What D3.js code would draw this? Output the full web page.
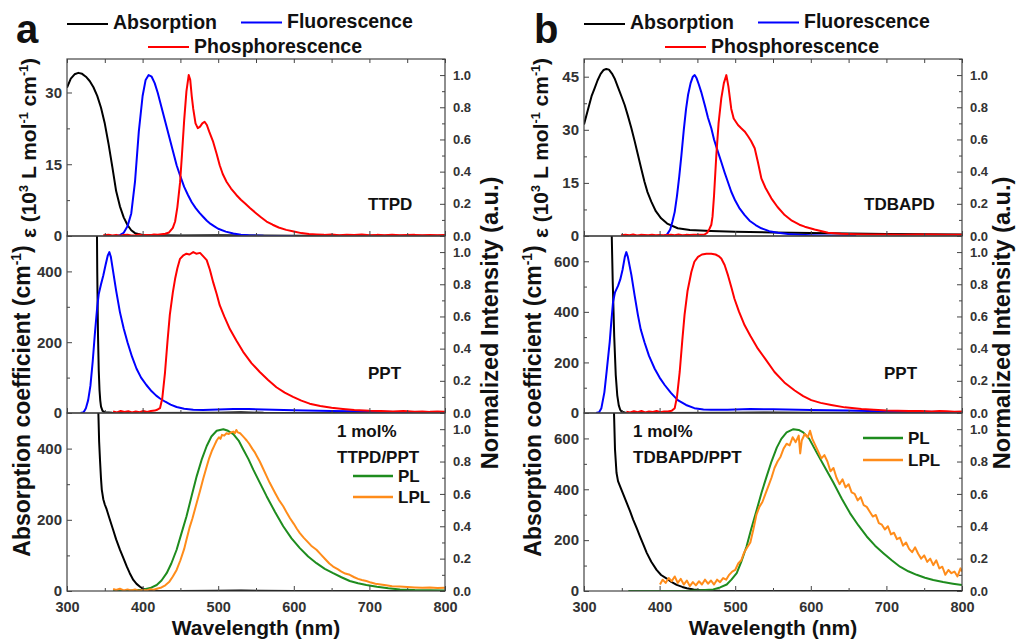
<!DOCTYPE html>
<html>
<head>
<meta charset="utf-8">
<script src="https://d3js.org/d3.v7.min.js"></script>
<style>
  body { margin: 0; background: #fff; }
  text { font-family: "Liberation Sans", Arial, sans-serif; font-weight: bold; }
</style>
</head>
<body>
<svg width="1017" height="640"></svg>
<script>
// ---------- data (wavelength nm, value) ----------
// panel a, TTPD solution: epsilon in 10^3 L/mol/cm, emission normalized
var absTTPD = [[300,31.0],[305,32.9],[310,33.8],[315,34.1],[320,33.9],[325,33.3],[330,32.4],[335,31.1],[340,29.3],[345,26.8],[350,23.5],[355,19.2],[360,14.4],[365,9.4],[370,6.2],[375,3.9],[380,2.3],[385,1.2],[390,0.6],[400,0.2],[450,0.1],[500,0.15],[550,0.1],[600,0.05],[800,0.03]];
var flTTPD = [[365,0],[370,0.005],[375,0.02],[380,0.06],[385,0.14],[390,0.34],[395,0.65],[400,0.87],[404,0.97],[408,1.0],[412,0.99],[416,0.95],[420,0.89],[425,0.8],[430,0.71],[435,0.62],[440,0.53],[445,0.44],[450,0.37],[455,0.305],[460,0.255],[465,0.21],[470,0.175],[475,0.145],[480,0.12],[485,0.095],[490,0.075],[495,0.06],[500,0.045],[510,0.027],[520,0.015],[530,0.008],[540,0.004],[560,0.001],[600,0]];
var phTTPD = [[348,0.004],[355,0.008],[360,0.003],[365,0.007],[370,0.002],[375,0.006],[380,0.008],[385,0.003],[390,0.005],[395,0.009],[400,0.004],[405,0.007],[410,0.005],[415,0.009],[420,0.008],[425,0.011],[430,0.014],[435,0.022],[440,0.05],[443,0.09],[446,0.18],[449.5,0.33],[452,0.5],[455,0.72],[458,0.9],[461,1.0],[463,0.97],[465,0.87],[467,0.79],[470,0.7],[473,0.67],[476,0.68],[479,0.7],[482,0.71],[485,0.69],[488,0.65],[493,0.59],[498,0.51],[502,0.44],[506,0.385],[511,0.337],[517,0.295],[524,0.255],[530,0.225],[536,0.2],[542,0.174],[550,0.142],[557,0.115],[564,0.09],[572,0.07],[580,0.053],[590,0.038],[600,0.028],[610,0.018],[620,0.012],[630,0.009],[640,0.007],[650,0.01],[660,0.005],[670,0.008],[680,0.006],[690,0.009],[700,0.004],[710,0.007],[720,0.005],[730,0.008],[740,0.004],[750,0.006],[760,0.007],[770,0.004],[780,0.006],[790,0.005],[800,0.006]];
// PPT film (panel a): absorption coefficient cm^-1
var absPPTa = [[330,5000],[337,2000],[339,700],[340,400],[341,220],[342,120],[343,65],[344,35],[345,18],[347,6],[350,2],[360,0.5],[400,0.2],[500,1],[530,2],[560,0.5],[800,0]];
var flPPTa = [[318,0],[322,0.005],[325,0.03],[328,0.08],[331,0.17],[334,0.32],[337,0.5],[340,0.66],[342,0.74],[345,0.8],[348,0.855],[351,0.92],[354,0.98],[356,1.0],[358,0.97],[361,0.88],[365,0.76],[370,0.627],[375,0.525],[380,0.44],[386,0.35],[392,0.275],[398,0.22],[405,0.174],[412,0.135],[418,0.108],[423,0.09],[430,0.07],[437,0.052],[445,0.037],[455,0.027],[467,0.02],[480,0.019],[500,0.022],[520,0.025],[540,0.025],[560,0.022],[600,0.017],[650,0.013],[700,0.009],[750,0.005],[800,0.003]];
var phPPTa = [[361,0.01],[366,0.004],[371,0.012],[376,0.006],[381,0.011],[386,0.003],[391,0.009],[396,0.005],[401,0.012],[406,0.007],[411,0.013],[416,0.015],[420,0.022],[423,0.03],[426,0.09],[429.6,0.25],[433,0.45],[436,0.61],[440,0.75],[443,0.834],[446,0.9],[449.5,0.958],[454,0.98],[458,0.99],[462,0.985],[467,1.0],[471,0.99],[476,0.995],[480,0.975],[484.8,0.95],[489,0.89],[493.5,0.81],[498,0.74],[502,0.67],[508,0.6],[515.6,0.52],[524,0.45],[533,0.38],[544,0.31],[555,0.255],[566,0.205],[577,0.16],[588,0.127],[599,0.1],[610,0.077],[621,0.058],[635,0.043],[650,0.032],[665,0.025],[680,0.019],[700,0.014],[715,0.012],[731,0.01],[745,0.012],[760,0.008],[770,0.01],[780,0.007],[790,0.009],[800,0.007]];
// 1 mol% TTPD/PPT film
var absMixA = [[336,3000],[339,1200],[340.5,600],[341.5,500],[342.5,420],[343.6,370],[345,315],[346,285],[348,258],[350,243],[352.5,229],[356,205],[361,172],[365,145],[370,116],[375,90],[379,69],[383,50],[387.7,31],[392,20],[396.6,12],[400,7],[405,3],[410,1.5],[420,0.5],[450,0.3],[500,0.5],[530,1.5],[550,0.5],[600,0],[800,0]];
var plA = [[361,0],[380,0.002],[400,0.008],[410,0.018],[418.7,0.037],[425,0.065],[431.8,0.11],[438,0.17],[445,0.255],[451,0.35],[458,0.46],[465,0.59],[471.6,0.71],[478,0.81],[484.8,0.896],[491,0.955],[498,0.99],[506.8,1.0],[513,0.99],[520,0.97],[527,0.93],[533,0.876],[540,0.815],[546.4,0.75],[555,0.67],[564,0.586],[575,0.49],[586,0.4],[597,0.325],[608,0.265],[619,0.213],[630,0.172],[641,0.137],[652,0.11],[663,0.085],[674,0.062],[685,0.048],[696,0.037],[710,0.026],[725,0.017],[740.5,0.01],[760,0.006],[780,0.004],[800,0.003]];
var lplA = [[361,0.012],[365,0.006],[370,0.014],[375,0.004],[380,0.01],[385,0.003],[390,0.009],[395,0.002],[400,0.006],[405,0.004],[410,0.011],[415,0.008],[420,0.016],[425,0.022],[430,0.035],[435,0.055],[440,0.09],[445,0.13],[450,0.19],[455,0.26],[458,0.317],[462,0.39],[466,0.45],[471.6,0.545],[476,0.62],[480,0.69],[484.8,0.77],[488,0.82],[492,0.87],[495,0.9],[498,0.93],[501,0.95],[503,0.94],[505,0.965],[508,0.96],[511,0.975],[514,0.97],[517,0.98],[520,0.985],[522,0.975],[524,0.995],[526,0.98],[529,0.975],[532,0.96],[535,0.945],[537.7,0.93],[541,0.91],[545,0.88],[548,0.86],[551,0.834],[555,0.8],[559,0.76],[564,0.71],[568,0.67],[572,0.635],[576,0.6],[580,0.565],[586,0.524],[590,0.49],[595,0.45],[600,0.415],[604,0.385],[608,0.358],[613,0.33],[618,0.305],[623,0.28],[630,0.255],[636,0.225],[642,0.195],[647,0.17],[652,0.151],[658,0.135],[663,0.12],[668,0.108],[674,0.1],[680,0.085],[685,0.075],[690,0.068],[696,0.062],[702,0.052],[708,0.045],[715,0.04],[722,0.035],[730,0.03],[740,0.028],[750,0.025],[760,0.022],[770,0.02],[780,0.021],[790,0.018],[800,0.02]];

// panel b, TDBAPD solution
var absTDBAPD = [[300,31.5],[305,35.5],[310,39.5],[314,41.7],[318,44],[322,45.8],[326,46.9],[329.5,47.2],[333,47],[337,45.9],[340.5,44.5],[345,42],[350,39.2],[353.8,37],[358,34],[362.6,30.5],[367,26.8],[371.4,22.9],[376,18.8],[380,15.3],[384,12.4],[389,9.7],[395,7],[402,5],[410,3.5],[424,2.2],[440,1.7],[468,1.4],[500,1.2],[550,1.0],[600,0.85],[650,0.7],[700,0.6],[750,0.5],[800,0.45]];
var flTDBAPD = [[406,0],[410,0.01],[414,0.04],[417,0.09],[420,0.15],[423,0.25],[426,0.37],[428.8,0.5],[432,0.66],[435,0.79],[437.6,0.876],[441,0.95],[444,0.99],[446.4,1.0],[449,0.98],[452,0.94],[455,0.896],[460,0.81],[464,0.735],[468.4,0.67],[472,0.6],[476,0.54],[481.6,0.46],[486,0.395],[490,0.34],[494.8,0.275],[500,0.22],[506,0.17],[512.5,0.13],[519,0.095],[527,0.068],[534.6,0.048],[545,0.03],[556.6,0.02],[570,0.012],[585,0.008],[600.6,0.005],[630,0.002],[660,0]];
var phTDBAPD = [[349,0.004],[355,0.008],[360,0.005],[365,0.009],[370,0.003],[375,0.007],[380,0.006],[385,0.004],[390,0.008],[395,0.005],[400,0.007],[405,0.004],[410,0.006],[415,0.008],[420,0.005],[425,0.009],[430,0.005],[435,0.007],[440,0.006],[445,0.008],[450,0.007],[455,0.008],[459.7,0.01],[463,0.02],[466,0.045],[468.4,0.07],[470,0.12],[472,0.25],[475,0.5],[478,0.7],[481.6,0.855],[485,0.95],[488.3,1.0],[491,0.93],[494.8,0.79],[498,0.73],[503.7,0.69],[508,0.67],[512.5,0.65],[517,0.62],[521,0.59],[525.8,0.545],[530,0.46],[534.6,0.358],[540,0.3],[547.8,0.234],[556,0.18],[565.5,0.13],[575,0.095],[585,0.07],[592,0.058],[605,0.04],[622.8,0.02],[640,0.014],[660,0.011],[680,0.009],[700,0.01],[720,0.008],[740,0.01],[760,0.009],[780,0.007],[800,0.008]];
// PPT film (panel b)
var absPPTb = [[330,5000],[334,1500],[336,800],[338,520],[340,300],[342,150],[344,70],[346,30],[348,12],[350,5],[355,1],[400,0.3],[500,1],[540,2],[600,0.5],[800,0.3]];
var flPPTb = [[316,0],[320,0.005],[323,0.03],[327,0.13],[330,0.26],[334,0.44],[336,0.56],[338.4,0.69],[341,0.75],[345,0.79],[348,0.83],[351,0.89],[354,0.97],[356,1.0],[358,0.97],[362.6,0.86],[367,0.73],[371.4,0.607],[375,0.52],[380,0.44],[386,0.355],[393.5,0.275],[400,0.22],[406.7,0.174],[415,0.125],[424,0.08],[435,0.05],[446,0.03],[458,0.022],[468,0.02],[490,0.02],[520,0.025],[550,0.023],[600,0.018],[650,0.015],[700,0.01],[750,0.007],[800,0.005]];
var phPPTb = [[356,0.008],[361,0.003],[366,0.011],[371,0.005],[376,0.012],[381,0.004],[386,0.01],[391,0.006],[396,0.013],[401,0.005],[406,0.01],[411,0.009],[416,0.014],[420,0.03],[423,0.1],[426.6,0.255],[430,0.45],[433,0.61],[437,0.76],[442,0.876],[446,0.94],[450.8,0.97],[456,0.985],[462,0.99],[468.4,0.99],[474,0.985],[478,0.975],[481.6,0.96],[486,0.92],[490.5,0.855],[495,0.78],[499,0.71],[505,0.63],[512.5,0.545],[520,0.48],[530,0.4],[540,0.335],[552,0.255],[565,0.19],[578.7,0.14],[590,0.105],[600.6,0.08],[613,0.063],[627,0.05],[645,0.035],[667,0.025],[700,0.016],[715,0.014],[730,0.012],[745,0.013],[760,0.01],[770,0.012],[780,0.011],[790,0.008],[800,0.009]];
// 1 mol% TDBAPD/PPT film
var absMixB = [[335,3000],[338.8,800],[341,557],[343,465],[345,432],[347.6,412],[352,380],[356.5,347],[361,313],[365,281],[370,245],[374,215],[378,186],[383,150],[389,115],[396,83],[402,63],[409,50],[415,37],[422.6,24],[430,16],[436,11],[445,6],[453,4],[465,2],[480,0.5],[500,0],[800,0]];
var plB = [[358.6,0],[400,0],[440,0.002],[460,0.006],[471,0.01],[480,0.022],[488.8,0.04],[495,0.07],[502,0.11],[508,0.18],[515,0.275],[521,0.38],[528.4,0.5],[535,0.61],[541.7,0.71],[548,0.8],[555,0.886],[561,0.94],[568,0.98],[577,1.0],[584,0.995],[590,0.98],[598,0.94],[607.8,0.855],[618,0.77],[629.8,0.67],[641,0.57],[652,0.48],[663,0.405],[674,0.337],[685,0.28],[696,0.234],[707,0.19],[718,0.15],[729,0.122],[740,0.1],[751,0.082],[762,0.068],[775,0.055],[788,0.045],[800,0.037]];
var lplB = [[400.5,0.04],[404,0.07],[408,0.05],[412,0.08],[416,0.06],[420,0.09],[424,0.05],[428,0.075],[432,0.04],[436,0.065],[440,0.03],[444,0.055],[448,0.035],[452,0.06],[456,0.04],[460,0.07],[464,0.045],[468,0.065],[472,0.04],[476,0.07],[480,0.055],[484,0.08],[488,0.07],[492,0.1],[496,0.12],[500,0.13],[504,0.17],[508,0.19],[512,0.24],[516,0.27],[520,0.3],[524,0.38],[528,0.47],[532,0.52],[536,0.55],[540,0.6],[544,0.65],[548,0.7],[552,0.76],[556,0.8],[560,0.83],[564,0.88],[568,0.91],[572,0.9],[576,0.95],[580,0.92],[584,0.96],[586,0.85],[588,0.93],[592,0.97],[596,0.95],[599,0.99],[602,0.94],[606,0.9],[610,0.86],[614,0.82],[618,0.84],[622,0.8],[626,0.74],[630,0.76],[634,0.7],[638,0.66],[642,0.69],[646,0.64],[650,0.66],[654,0.61],[658,0.6],[662,0.56],[666,0.58],[670,0.53],[674,0.52],[678,0.49],[682,0.46],[686,0.47],[690,0.42],[694,0.41],[698,0.38],[702,0.4],[706,0.35],[710,0.36],[714,0.32],[718,0.33],[722,0.28],[726,0.3],[730,0.26],[734,0.24],[738,0.27],[742,0.23],[746,0.2],[750,0.22],[754,0.18],[758,0.2],[762,0.16],[766,0.19],[770,0.14],[774,0.15],[778,0.1],[782,0.13],[786,0.11],[790,0.12],[794,0.09],[798,0.14],[800,0.12]];

// axis ticks
var xTicks = [300, 400, 500, 600, 700, 800];
var xMinor = [350, 450, 550, 650, 750];
var rightTicks = [0, 0.2, 0.4, 0.6, 0.8, 1.0];
var rightMinor = [0.1, 0.3, 0.5, 0.7, 0.9, 1.1];
var leftTicksA = [[0, 15, 30], [0, 200, 400], [0, 200, 400]];
var leftMinorA = [[7.5, 22.5], [100, 300], [100, 300]];
var leftTicksB = [[0, 15, 30, 45], [0, 200, 400, 600], [0, 200, 400, 600]];
var leftMinorB = [[7.5, 22.5, 37.5], [100, 300, 500], [100, 300, 500]];
var leftMaxA = [37, 500, 500];
var leftMaxB = [50, 700, 700];

var C = {abs: "#000000", fl: "#0000ff", ph: "#ff0000", pl: "#1e8c1e", lpl: "#ff8c1a"};

var svg = d3.select("svg");
var rows = [[59, 236], [236, 413], [413, 591]];

var panels = [
  {x0: 67, x1: 445, letter: "a", lx: 16, name: "TTPD", mix: "TTPD/PPT",
   leftMax: leftMaxA, leftTicks: leftTicksA, leftMinor: leftMinorA,
   series: [
     [{d: absTTPD, a: "L", c: C.abs}, {d: flTTPD, a: "R", c: C.fl}, {d: phTTPD, a: "R", c: C.ph}],
     [{d: absPPTa, a: "L", c: C.abs}, {d: flPPTa, a: "R", c: C.fl}, {d: phPPTa, a: "R", c: C.ph}],
     [{d: absMixA, a: "L", c: C.abs}, {d: plA, a: "R", c: C.pl}, {d: lplA, a: "R", c: C.lpl}]
   ]},
  {x0: 584, x1: 962, letter: "b", lx: 534, name: "TDBAPD", mix: "TDBAPD/PPT",
   leftMax: leftMaxB, leftTicks: leftTicksB, leftMinor: leftMinorB,
   series: [
     [{d: absTDBAPD, a: "L", c: C.abs}, {d: flTDBAPD, a: "R", c: C.fl}, {d: phTDBAPD, a: "R", c: C.ph}],
     [{d: absPPTb, a: "L", c: C.abs}, {d: flPPTb, a: "R", c: C.fl}, {d: phPPTb, a: "R", c: C.ph}],
     [{d: absMixB, a: "L", c: C.abs}, {d: plB, a: "R", c: C.pl}, {d: lplB, a: "R", c: C.lpl}]
   ]}
];

function styleAxis(g, size) {
  g.select(".domain").remove();
  g.selectAll(".tick line").attr("stroke", "#444").attr("stroke-width", 1);
  g.selectAll(".tick text").attr("fill", "#333").style("font-size", size + "px");
}

// rotated title with superscript parts
function rotTitle(x, y, size, parts) {
  var t = svg.append("text")
    .attr("transform", "translate(" + x + "," + y + ") rotate(-90)")
    .attr("text-anchor", "middle")
    .style("font-size", size + "px")
    .attr("fill", "#111");
  var up = false;
  parts.forEach(function(p) {
    var s = t.append("tspan").text(p[0]);
    if (p[1] && !up) { s.attr("dy", -size * 0.4).style("font-size", (size * 0.6) + "px"); up = true; }
    else if (!p[1] && up) { s.attr("dy", size * 0.4); up = false; }
    else if (p[1]) s.style("font-size", (size * 0.6) + "px");
  });
  return t;
}

panels.forEach(function(p, pi) {
  var x = d3.scaleLinear().domain([300, 800]).range([p.x0, p.x1]);

  rows.forEach(function(r, ri) {
    var yL = d3.scaleLinear().domain([0, p.leftMax[ri]]).range([r[1], r[0]]);
    var yR = d3.scaleLinear().domain([0, 1.1]).range([r[1], r[0]]);
    var id = "clip" + pi + ri;
    svg.append("clipPath").attr("id", id).append("rect")
      .attr("x", p.x0).attr("y", r[0]).attr("width", p.x1 - p.x0).attr("height", r[1] - r[0]);

    var g = svg.append("g").attr("clip-path", "url(#" + id + ")");
    p.series[ri].forEach(function(s) {
      var ys = s.a === "L" ? yL : yR;
      var line = d3.line().x(function(d) { return x(d[0]); }).y(function(d) { return ys(Math.min(d[1], p.leftMax[ri] * 3)); });
      g.append("path").datum(s.d).attr("d", line)
        .attr("fill", "none").attr("stroke", s.c).attr("stroke-width", 2)
        .attr("stroke-linejoin", "round");
    });

    // frame
    svg.append("rect").attr("x", p.x0).attr("y", r[0])
      .attr("width", p.x1 - p.x0).attr("height", r[1] - r[0])
      .attr("fill", "none").attr("stroke", "#444").attr("stroke-width", 1.2);

    // left axis
    var gl = svg.append("g").attr("transform", "translate(" + p.x0 + ",0)")
      .call(d3.axisLeft(yL).tickValues(p.leftTicks[ri]).tickSize(-5).tickPadding(5));
    styleAxis(gl, 15);
    var glm = svg.append("g").attr("transform", "translate(" + p.x0 + ",0)")
      .call(d3.axisLeft(yL).tickValues(p.leftMinor[ri]).tickSize(-3).tickFormat(""));
    styleAxis(glm, 15);

    // right axis
    var gr = svg.append("g").attr("transform", "translate(" + p.x1 + ",0)")
      .call(d3.axisRight(yR).tickValues(rightTicks).tickSize(-5).tickPadding(8).tickFormat(d3.format(".1f")));
    styleAxis(gr, 13);
    var grm = svg.append("g").attr("transform", "translate(" + p.x1 + ",0)")
      .call(d3.axisRight(yR).tickValues(rightMinor).tickSize(-3).tickFormat(""));
    styleAxis(grm, 13);

    // bottom axis
    var gb = svg.append("g").attr("transform", "translate(0," + r[1] + ")")
      .call(d3.axisBottom(x).tickValues(xTicks).tickSize(-5).tickPadding(11)
        .tickFormat(ri === 2 ? d3.format("d") : ""));
    styleAxis(gb, 14.5);
    var gbm = svg.append("g").attr("transform", "translate(0," + r[1] + ")")
      .call(d3.axisBottom(x).tickValues(xMinor).tickSize(-3).tickFormat(""));
    styleAxis(gbm, 14.5);
    if (ri === 0) {
      var gt = svg.append("g").attr("transform", "translate(0," + r[0] + ")")
        .call(d3.axisTop(x).tickValues(xTicks.concat(xMinor)).tickSize(-4).tickFormat(""));
      styleAxis(gt, 14.5);
    }
  });

  // panel letter
  svg.append("text").attr("x", p.lx).attr("y", 43).style("font-size", "40px").attr("fill", "#111").text(p.letter);

  // top legend
  var lg = [
    {c: C.abs, t: "Absorption", x: p.x0, y: 24, ty: 29},
    {c: C.fl, t: "Fluorescence", x: p.x0 + 174, y: 22.5, ty: 27.5},
    {c: C.ph, t: "Phosphorescence", x: p.x0 + 81, y: 47, ty: 53}
  ];
  lg.forEach(function(l) {
    svg.append("line").attr("x1", l.x).attr("x2", l.x + 41).attr("y1", l.y).attr("y2", l.y)
      .attr("stroke", l.c).attr("stroke-width", 2);
    svg.append("text").attr("x", l.x + 46).attr("y", l.ty).style("font-size", "19.5px").attr("fill", "#111").text(l.t);
  });

  // in-plot labels
  var rx = pi === 0 ? 368 : 864;
  svg.append("text").attr("x", rx).attr("y", 210).style("font-size", "17px").attr("fill", "#111").text(p.name);
  svg.append("text").attr("x", pi === 0 ? 368 : 884).attr("y", 379).style("font-size", "17px").attr("fill", "#111").text("PPT");
  var mx = pi === 0 ? 337 : 633;
  svg.append("text").attr("x", mx).attr("y", 437).style("font-size", "17px").attr("fill", "#111").text("1 mol%");
  svg.append("text").attr("x", mx).attr("y", 463).style("font-size", "17px").attr("fill", "#111").text(p.mix);

  var leg = pi === 0 ? {x: 353, y1: 476, y2: 497} : {x: 863, y1: 438, y2: 460};
  [[C.pl, "PL", leg.y1], [C.lpl, "LPL", leg.y2]].forEach(function(l) {
    svg.append("line").attr("x1", leg.x).attr("x2", leg.x + 40).attr("y1", l[2]).attr("y2", l[2])
      .attr("stroke", l[0]).attr("stroke-width", 2.5);
    svg.append("text").attr("x", leg.x + 45).attr("y", l[2] + 6).style("font-size", "17px").attr("fill", "#111").text(l[1]);
  });

  // axis titles
  svg.append("text").attr("x", (p.x0 + p.x1) / 2).attr("y", 635).attr("text-anchor", "middle")
    .style("font-size", "21px").attr("fill", "#111").text("Wavelength (nm)");
  var lt = pi === 0 ? [36, 30] : [548, 541];
  rotTitle(lt[0], 148, 21, [["ε (10"], ["3", true], [" L mol"], ["-1", true], [" cm"], ["-1", true], [")"]]);
  rotTitle(lt[1], 401, 23, [["Absorption coefficient (cm"], ["-1", true], [")"]]);
  rotTitle(pi === 0 ? 498 : 1010, 323, 23.5, [["Normalized Intensity (a.u.)"]]);
});
</script>
</body>
</html>
